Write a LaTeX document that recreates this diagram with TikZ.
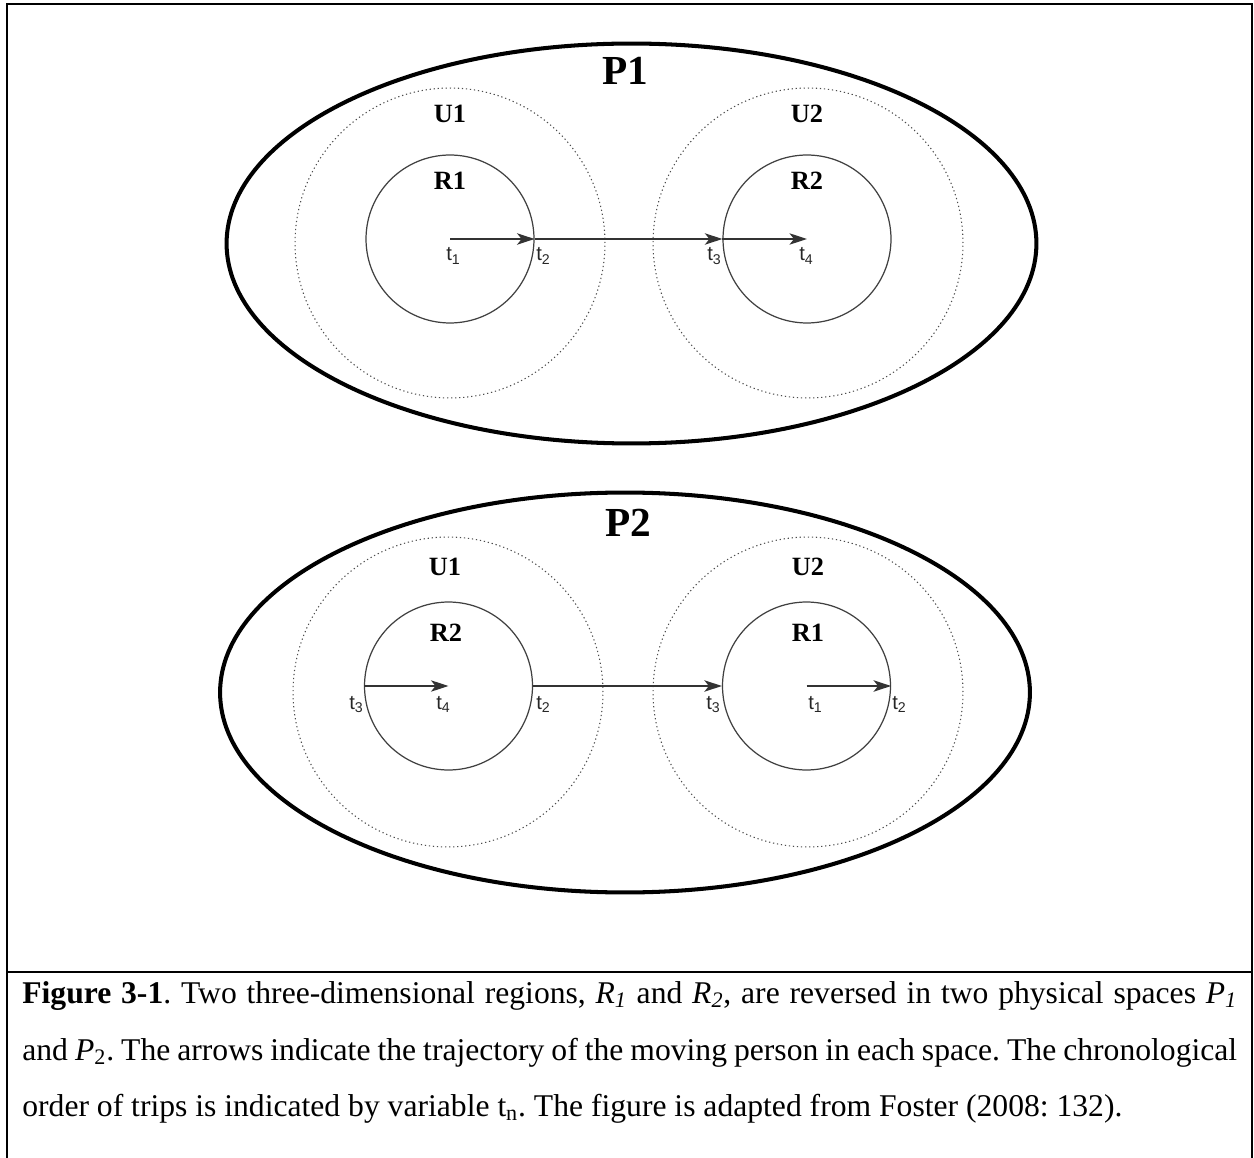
\documentclass[tikz,border=0pt]{standalone}
\usepackage{fontspec}
\setmainfont{Liberation Serif}
\newfontfamily\lsans{Liberation Sans}
\usetikzlibrary{arrows.meta,shapes.geometric}
\begin{document}
\frenchspacing
\begin{tikzpicture}[x=0.02cm,y=-0.02cm,
  space/.style={draw, ellipse, line width=2.3pt, minimum width=16.2cm, minimum height=8cm, inner sep=0},
  umbra/.style={draw=black!70, circle, line width=0.6pt, dash pattern=on 0.7pt off 1.6pt, minimum size=6.2cm, inner sep=0},
  region/.style={draw=black!75, circle, line width=0.7pt, minimum size=3.36cm, inner sep=0},
  biglabel/.style={font=\fontsize{23.5}{28}\selectfont\bfseries, anchor=base, inner sep=0},
  lab/.style={font=\fontsize{15}{18}\selectfont\bfseries, anchor=base, inner sep=0},
  tl/.style={font=\lsans\fontsize{11.5}{13}\selectfont, anchor=base west, inner sep=0, text=black!85},
  traj/.style={draw=black!80, line width=0.75pt, -{Stealth[length=10pt,width=6.5pt,inset=2.6pt]}},
  captext/.style={font=\fontsize{18}{22}\selectfont, anchor=base west, inner sep=0},
  framelines/.style={line width=1.1pt},
]
\useasboundingbox (0,0) rectangle (1254,1158);
\draw[framelines] (7,1160) -- (7,4) -- (1252,4) -- (1252,1160);
\draw[framelines] (7,972) -- (1252,972);

% ---------- P1 ----------
\node[space] (P1) at (631.5,243.5) {};
\node[umbra] (U1a) at (450,243) {};
\node[umbra] (U2a) at (808,243) {};
\node[region] (R1a) at (450,239) {};
\node[region] (R2a) at (807,239) {};
\node[biglabel] (P1l) at (625,85) {P1};
\node[lab] (U1al) at (450,123) {U1};
\node[lab] (U2al) at (807,123) {U2};
\node[lab] (R1al) at (450,190) {R1};
\node[lab] (R2al) at (807,190) {R2};
\draw[traj] (R1a.center) -- (R1a.east);
\draw[traj] (R1a.east) -- (R2a.west);
\draw[traj] (R2a.west) -- (R2a.center);
\node[tl] (a1) at (446,261) {t\textsubscript{1}};
\node[tl] (a2) at (536,261) {t\textsubscript{2}};
\node[tl] (a3) at (707,261) {t\textsubscript{3}};
\node[tl] (a4) at (799,261) {t\textsubscript{4}};

% ---------- P2 ----------
\node[space] (P2) at (625,692.5) {};
\node[umbra] (U1b) at (448,692) {};
\node[umbra] (U2b) at (808,692) {};
\node[region] (R2b) at (448.5,686) {};
\node[region] (R1b) at (806.5,686) {};
\node[biglabel] (P2l) at (628,537) {P2};
\node[lab] (U1bl) at (445,575) {U1};
\node[lab] (U2bl) at (808,575) {U2};
\node[lab] (R2bl) at (446,641) {R2};
\node[lab] (R1bl) at (808,641) {R1};
\draw[traj] (R2b.west) -- (R2b.center);
\draw[traj] (R2b.east) -- (R1b.west);
\draw[traj] (R1b.center) -- (R1b.east);
\node[tl] (b3) at (349,709) {t\textsubscript{3}};
\node[tl] (b4) at (436,709) {t\textsubscript{4}};
\node[tl] (b2) at (536,709) {t\textsubscript{2}};
\node[tl] (c3) at (706,709) {t\textsubscript{3}};
\node[tl] (c1) at (808,709) {t\textsubscript{1}};
\node[tl] (c2) at (892,709) {t\textsubscript{2}};

% ---------- caption ----------
\node[captext] (cap1) at (22,1003) {\makebox[24.3cm][s]{\textbf{Figure 3-1}. Two three-dimensional regions, \textit{R\textsubscript{1}} and \textit{R\textsubscript{2}}, are reversed in two physical spaces \textit{P\textsubscript{1}}}};
\node[captext] (cap2) at (22,1060) {\makebox[24.3cm][s]{and \textit{P}\textsubscript{2}. The arrows indicate the trajectory of the moving person in each space. The chronological}};
\node[captext] (cap3) at (22,1116) {order of trips is indicated by variable t\textsubscript{n}. The figure is adapted from Foster (2008: 132).};
\end{tikzpicture}
\end{document}
